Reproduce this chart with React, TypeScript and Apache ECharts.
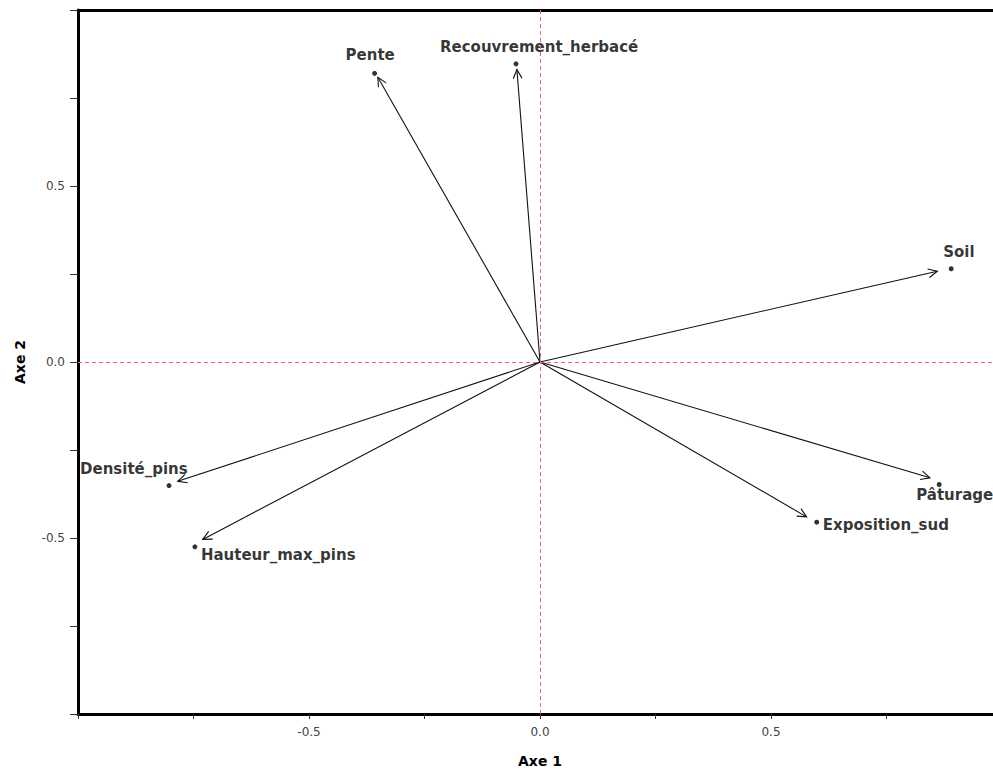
import React, { useEffect, useRef } from "react";
import * as echarts from "echarts";

// Variable loadings on the first two ordination axes
const variables = [
  "Pente",
  "Recouvrement_herbacé",
  "Soil",
  "Pâturage",
  "Exposition_sud",
  "Densité_pins",
  "Hauteur_max_pins",
];
const axe1 = [-0.358, -0.052, 0.89, 0.864, 0.599, -0.803, -0.747];
const axe2 = [0.82, 0.847, 0.265, -0.348, -0.455, -0.351, -0.525];

// Where each arrow ends (slightly short of its point)
const arrowAxe1 = [-0.351, -0.05, 0.86, 0.844, 0.577, -0.784, -0.73];
const arrowAxe2 = [0.809, 0.831, 0.258, -0.329, -0.44, -0.339, -0.504];

// Axis tick labels that are printed
const labelledTicks = [-0.5, 0, 0.5];

// Label placement around each point: [dx of text start, dy of text middle]
const labelOffsets: Record<string, [number, number]> = {
  Pente: [-29, -18],
  "Recouvrement_herbacé": [-76, -17],
  Soil: [-8, -17],
  "Pâturage": [-23, 11],
  Exposition_sud: [6, 3],
  "Densité_pins": [-89, -17],
  Hauteur_max_pins: [6, 8],
};

const FONT = "'DejaVu Sans', Verdana, sans-serif";
const SYMBOL = 5;

function tickLabel(v: number): string {
  return labelledTicks.some((t) => Math.abs(t - v) < 1e-9) ? v.toFixed(1) : "";
}

export default function App() {
  const ref = useRef<HTMLDivElement>(null);

  useEffect(() => {
    if (!ref.current) return;
    const chart = echarts.init(ref.current, undefined, { renderer: "svg" });

    const arrowData = arrowAxe1.map((x, i) => [x, arrowAxe2[i]]);
    const pointData = variables.map((name, i) => {
      const [dx, dy] = labelOffsets[name];
      return {
        name,
        value: [axe1[i], axe2[i]],
        // position is measured from the symbol's top-left corner
        label: { position: [dx + SYMBOL / 2, dy + SYMBOL / 2] },
      };
    });

    const headLen = 10;
    const headAngle = (26 * Math.PI) / 180;

    chart.setOption({
      animation: false,
      backgroundColor: "#ffffff",
      textStyle: { fontFamily: FONT },
      grid: { left: 78, right: 0, top: 10, bottom: 57, containLabel: false },
      xAxis: [
        {
          type: "value",
          min: -1,
          max: 1,
          interval: 0.25,
          position: "bottom",
          name: "Axe 1",
          nameLocation: "middle",
          nameGap: 40,
          nameTextStyle: { fontFamily: FONT, fontWeight: "bold", fontSize: 14, color: "#000" },
          axisLine: { show: true, onZero: false, lineStyle: { color: "#000", width: 3 } },
          axisTick: { show: true, length: 5, lineStyle: { color: "#333", width: 1 } },
          axisLabel: {
            formatter: tickLabel,
            margin: 12,
            fontSize: 12,
            color: "#444",
            fontFamily: FONT,
          },
          splitLine: { show: false },
        },
        {
          type: "value",
          min: -1,
          max: 1,
          position: "top",
          axisLine: { show: true, onZero: false, lineStyle: { color: "#000", width: 3 } },
          axisTick: { show: false },
          axisLabel: { show: false },
          splitLine: { show: false },
        },
      ],
      yAxis: {
        type: "value",
        min: -1,
        max: 1,
        interval: 0.25,
        position: "left",
        name: "Axe 2",
        nameLocation: "middle",
        nameRotate: 90,
        nameGap: 51,
        nameTextStyle: { fontFamily: FONT, fontWeight: "bold", fontSize: 14, color: "#000" },
        axisLine: { show: true, onZero: false, lineStyle: { color: "#000", width: 3 } },
        axisTick: { show: true, length: 8, lineStyle: { color: "#333", width: 1 } },
        axisLabel: {
          formatter: tickLabel,
          margin: 13,
          fontSize: 12,
          color: "#444",
          fontFamily: FONT,
        },
        splitLine: { show: false },
      },
      series: [
        {
          type: "custom",
          name: "arrows",
          coordinateSystem: "cartesian2d",
          clip: false,
          silent: true,
          data: arrowData,
          encode: { x: 0, y: 1 },
          renderItem: (params: any, api: any) => {
            const o = api.coord([0, 0]);
            const p = api.coord([api.value(0), api.value(1)]);
            const ang = Math.atan2(p[1] - o[1], p[0] - o[0]);
            const a1 = [
              p[0] - headLen * Math.cos(ang - headAngle),
              p[1] - headLen * Math.sin(ang - headAngle),
            ];
            const a2 = [
              p[0] - headLen * Math.cos(ang + headAngle),
              p[1] - headLen * Math.sin(ang + headAngle),
            ];
            const stroke = { stroke: "#111", lineWidth: 1.1, fill: "none" };
            return {
              type: "group",
              children: [
                { type: "line", shape: { x1: o[0], y1: o[1], x2: p[0], y2: p[1] }, style: stroke },
                { type: "polyline", shape: { points: [a1, p, a2] }, style: stroke },
              ],
            };
          },
          markLine: {
            silent: true,
            symbol: "none",
            label: { show: false },
            lineStyle: { color: "#f0607f", width: 1, type: [4, 3] },
            data: [{ xAxis: 0 }, { yAxis: 0 }],
          },
          z: 3,
        },
        {
          type: "scatter",
          name: "variables",
          symbol: "circle",
          symbolSize: SYMBOL,
          itemStyle: { color: "#000" },
          silent: true,
          data: pointData,
          label: {
            show: true,
            align: "left",
            verticalAlign: "middle",
            formatter: "{b}",
            fontFamily: FONT,
            fontWeight: "bold",
            fontSize: 15,
            color: "#000",
          },
          labelLayout: { hideOverlap: false },
          z: 4,
        },
      ],
    });

    return () => chart.dispose();
  }, []);

  // The plotting frame runs on past the right edge of the page, as drawn.
  return (
    <div style={{ position: "fixed", left: 0, top: 0, width: 993, height: 773, overflow: "hidden", background: "#fff" }}>
      <div ref={ref} style={{ width: 1005, height: 773 }} />
    </div>
  );
}
